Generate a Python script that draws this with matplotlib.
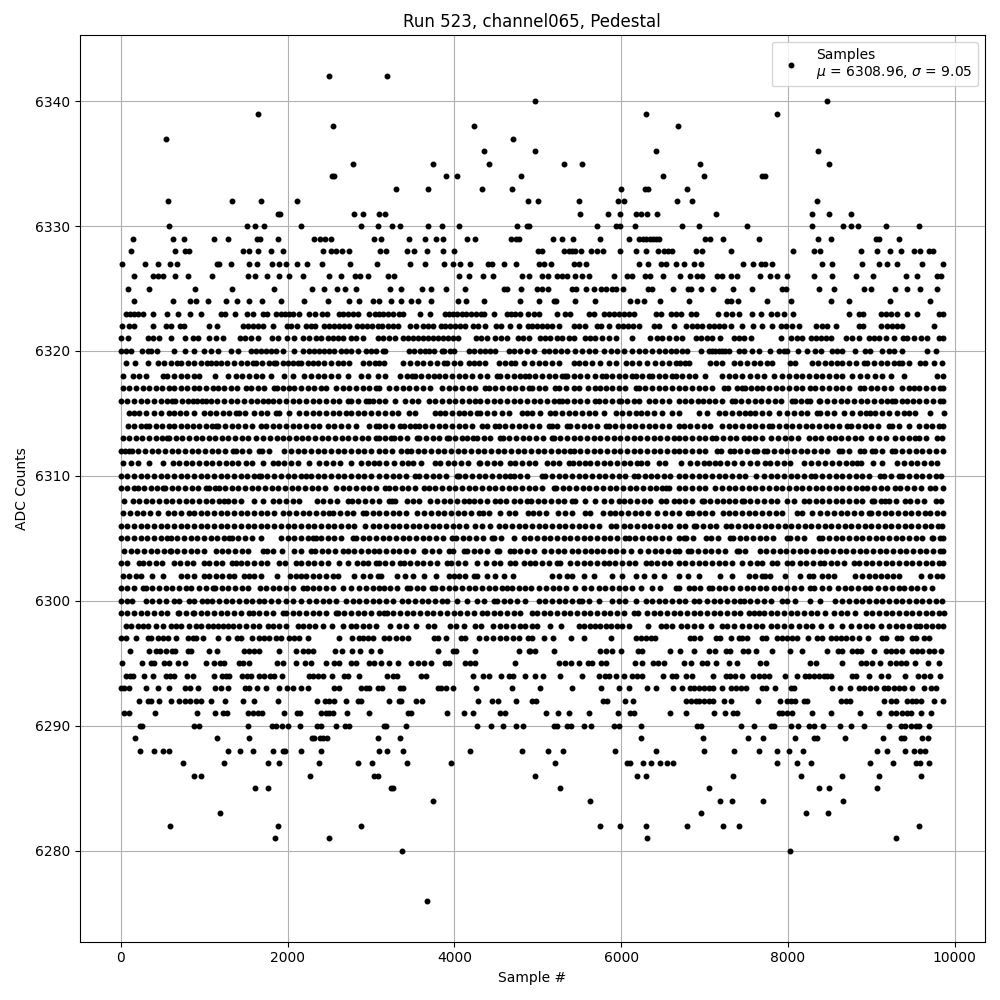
import matplotlib
matplotlib.use('Agg')
from matplotlib import pyplot as plt

# sample numbers, one list per ADC level
s6342 = [2494, 3190]
s6340 = [4968, 8472]
s6339 = [1642, 6300, 7872]
s6338 = [2542, 4234, 6684]
s6337 = [538, 4702]
s6336 = [4354, 4968, 6420, 8364]
s6335 = [2782, 3742, 4414, 5316, 5532, 6948, 8496]
s6334 = [2530, 2562, 3898, 4030, 4798, 6504, 6996, 7692, 7724]
s6333 = [3298, 3682, 4330, 4690, 6000, 6288, 6316, 6792]
s6332 = [562, 1330, 1678, 2110, 4878, 5004, 5496, 5964, 6036, 6672, 6852, 8352]
s6331 = [1882, 1910, 2794, 2902, 3094, 3166, 5508, 5844, 5988, 6180, 6240, 6312, 6432, 7140, 8292, 8496, 8760]
s6330 = [574, 1510, 1606, 1714, 2158, 2878, 3082, 3250, 3346, 3682, 3850, 4054, 4750, 4870, 4892, 5712, 5940, 5980,
         6168, 6732, 6936, 7512, 8292, 8664, 8760, 8844, 9180, 9576]
s6329 = [142, 622, 754, 1114, 1282, 1630, 1670, 1882, 2314, 2386, 2450, 2522, 3034, 3118, 3454, 3646, 3778, 3862,
         4150, 4246, 4678, 4738, 4774, 5184, 5292, 5424, 5748, 6096, 6216, 6260, 6300, 6340, 6380, 6420, 6450, 7004,
         7068, 7224, 7656, 8364, 8520, 9052, 9092, 9336]
s6328 = [118, 646, 766, 822, 1462, 1534, 1642, 1798, 1942, 2422, 2522, 2582, 2650, 2734, 3106, 3178, 3430, 3514,
         3670, 3862, 3994, 5000, 5052, 5312, 5372, 5412, 5452, 5520, 5640, 5712, 5784, 5988, 6180, 6300, 6444, 6512,
         6564, 6612, 6900, 6972, 7312, 8064, 8316, 8388, 8872, 9072, 9228, 9360, 9516, 9588, 9696, 9744]
s6327 = [10, 286, 442, 586, 670, 1150, 1182, 1318, 1534, 1630, 1814, 1902, 1982, 2110, 2230, 2410, 2746, 3070, 3466,
         3646, 3874, 3982, 4062, 4182, 4402, 4450, 4594, 4738, 5012, 5072, 5160, 5432, 5492, 5580, 6216, 6320, 6480,
         6540, 6660, 6756, 6876, 6960, 7464, 7584, 7680, 7724, 7812, 8412, 8532, 8892, 9096, 9192, 9312, 9612, 9852]
s6326 = [154, 382, 442, 502, 646, 802, 1090, 1522, 1606, 1750, 1894, 2014, 2182, 2494, 2638, 2806, 2866, 2962, 3202,
         3274, 4054, 4174, 4342, 4462, 4810, 4892, 5052, 5124, 5232, 5292, 5352, 5452, 5532, 5612, 5912, 6072, 6132,
         6280, 6340, 6504, 6708, 6828, 6912, 6972, 7152, 7212, 7312, 7392, 7668, 7780, 7872, 7992, 8316, 8532, 8820,
         9024, 9420, 9552, 9780, 9828]
s6325 = [82, 334, 886, 1330, 1838, 2290, 2434, 2590, 2686, 2818, 3226, 3358, 3610, 3718, 3898, 4126, 4594, 4630, 4798,
         4992, 5052, 5124, 5412, 5460, 5580, 5676, 5760, 5820, 5892, 5932, 6024, 6324, 6364, 6624, 6804, 6840, 6960,
         7104, 7344, 7572, 7932, 7972, 8376, 8556, 8916, 9000, 9288, 9432, 9588, 9780]
s6324 = [154, 622, 826, 902, 1042, 1258, 1390, 1534, 1690, 1918, 2194, 2482, 2734, 2854, 3022, 3094, 3238, 3358, 3478,
         3562, 3718, 4042, 4138, 4354, 4790, 5016, 5192, 5220, 5448, 5688, 6108, 6192, 6276, 6464, 6816, 7272, 7320,
         7404, 7752, 8040, 8520, 8736, 9228, 9708]
s6323 = [62, 110, 162, 210, 266, 382, 550, 682, 826, 958, 1202, 1246, 1366, 1510, 1582, 1702, 1750, 1862, 1922, 1974,
         2022, 2070, 2134, 2254, 2326, 2410, 2470, 2614, 2662, 2722, 2790, 2842, 2974, 3054, 3094, 3150, 3202, 3262,
         3334, 3382, 3590, 3706, 3882, 3934, 3982, 4030, 4094, 4142, 4202, 4262, 4322, 4354, 4474, 4630, 4682, 4722,
         4782, 4882, 4952, 5012, 5232, 5332, 5392, 5612, 5672, 5792, 5852, 5912, 5972, 6032, 6092, 6156, 6412, 6472,
         6592, 6652, 6720, 6832, 6900, 7160, 7260, 7332, 7412, 7572, 7672, 7792, 7872, 7952, 8060, 8736, 8852, 8904,
         9112, 9172, 9232, 9312, 9432, 9552, 9804, 9852]
s6322 = [10, 102, 162, 382, 542, 602, 710, 762, 1062, 1150, 1462, 1522, 1582, 1642, 1702, 1822, 1990, 2042, 2110, 2222,
         2282, 2334, 2442, 2502, 2562, 2622, 2682, 2742, 2830, 2890, 2950, 3014, 3082, 3134, 3202, 3262, 3322, 3470,
         3542, 3622, 3682, 3742, 3842, 3882, 3942, 4002, 4062, 4122, 4222, 4282, 4362, 4502, 4562, 4662, 4774, 4882,
         4932, 4992, 5052, 5112, 5172, 5252, 5432, 5492, 5572, 5712, 5764, 5852, 5964, 6020, 6084, 6140, 6212, 6392,
         6452, 6636, 6772, 6852, 6912, 6972, 7052, 7112, 7172, 7232, 7312, 7452, 7580, 7692, 7812, 7912, 7972, 8052,
         8132, 8340, 8412, 8472, 8572, 8852, 8904, 9120, 9192, 9252, 9312, 9372, 9756]
s6321 = [2, 82, 322, 382, 462, 602, 766, 862, 922, 1062, 1142, 1222, 1434, 1490, 1562, 1642, 1814, 1882, 1990, 2082,
         2190, 2262, 2342, 2402, 2482, 2542, 2602, 2666, 2762, 2822, 2902, 3082, 3142, 3222, 3294, 3382, 3442, 3502,
         3562, 3622, 3682, 3742, 3802, 3862, 3922, 3982, 4042, 4262, 4322, 4390, 4482, 4562, 4630, 4762, 4822, 4892,
         5032, 5092, 5152, 5232, 5292, 5372, 5432, 5572, 5632, 5692, 5772, 5852, 5932, 6132, 6340, 6432, 6492, 6572,
         6652, 6732, 6892, 6952, 7032, 7092, 7180, 7352, 7412, 7472, 7552, 7920, 8032, 8112, 8172, 8272, 8332, 8392,
         8452, 8512, 8692, 8772, 8852, 8972, 9032, 9092, 9172, 9276, 9380, 9432, 9512, 9592, 9672, 9804, 9852]
s6320 = [0, 62, 122, 254, 322, 362, 430, 634, 774, 882, 1002, 1082, 1162, 1322, 1402, 1562, 1622, 1682, 1742, 1802, 1862,
         1942, 2074, 2182, 2262, 2322, 2382, 2442, 2502, 2562, 2642, 2702, 2762, 2842, 2942, 3002, 3062, 3142, 3172,
         3452, 3512, 3590, 3652, 3692, 3760, 3852, 3880, 3950, 4000, 4172, 4240, 4312, 4372, 4430, 4492, 4652, 4720,
         4790, 4870, 4952, 5072, 5140, 5210, 5280, 5352, 5452, 5532, 5612, 5692, 5792, 5872, 5952, 6032, 6132, 6210,
         6290, 6370, 6450, 6530, 6600, 6652, 6728, 6788, 6960, 7048, 7088, 7128, 7168, 7208, 7248, 7288, 7416, 7476,
         7568, 7648, 7788, 7888, 7948, 7988, 8120, 8228, 8328, 8400, 8528, 8588, 8648, 8808, 8928, 8988, 9128, 9208,
         9268, 9368, 9668, 9768]
s6319 = [62, 174, 330, 442, 520, 600, 670, 722, 802, 880, 960, 1030, 1082, 1142, 1202, 1280, 1360, 1440, 1510, 1582,
         1622, 1700, 1780, 1842, 1862, 1940, 2010, 2062, 2122, 2162, 2240, 2310, 2362, 2442, 2520, 2600, 2670, 2734,
         2902, 2980, 3050, 3102, 3152, 3380, 3472, 3552, 3630, 3710, 3790, 3872, 3912, 3990, 4070, 4172, 4232, 4300,
         4372, 4532, 4610, 4680, 4732, 4832, 4932, 5012, 5090, 5172, 5260, 5432, 5492, 5570, 5650, 5752, 5852, 5932,
         6060, 6130, 6210, 6312, 6404, 6492, 6572, 6652, 6708, 6760, 6808, 7068, 7140, 7208, 7348, 7428, 7510, 7590,
         7670, 7750, 7808, 8028, 8088, 8288, 8360, 8440, 8510, 8588, 8648, 8730, 8810, 8908, 8948, 9030, 9110, 9190,
         9270, 9328, 9368, 9448, 9588, 9648, 9748, 9840]
s6318 = [22, 142, 222, 302, 502, 550, 642, 720, 800, 880, 942, 1134, 1282, 1382, 1460, 1540, 1620, 1700, 1802, 1954,
         2062, 2202, 2280, 2360, 2440, 2520, 2600, 2722, 2882, 2960, 3082, 3172, 3352, 3430, 3492, 3524, 3600, 3680,
         3752, 3812, 3890, 3970, 4052, 4132, 4212, 4312, 4390, 4512, 4552, 4630, 4710, 4790, 4852, 4892, 4970, 5050,
         5130, 5210, 5290, 5332, 5352, 5430, 5510, 5590, 5692, 5772, 5812, 5892, 5970, 6050, 6132, 6172, 6250, 6332,
         6372, 6450, 6530, 6610, 6652, 6728, 6810, 6890, 7008, 7208, 7290, 7370, 7448, 7548, 7630, 7710, 7828, 7928,
         8010, 8090, 8170, 8250, 8330, 8410, 8490, 8570, 8650, 8768, 8868, 8950, 9048, 9128, 9236, 9392, 9788, 9860]
s6317 = [22, 100, 182, 262, 340, 420, 500, 582, 642, 720, 800, 882, 934, 1020, 1102, 1162, 1240, 1320, 1400, 1502, 1562,
         1642, 1720, 1842, 1870, 1950, 2022, 2082, 2160, 2240, 2320, 2400, 2462, 2582, 2660, 2740, 2820, 2900, 2980,
         3060, 3092, 3220, 3300, 3380, 3460, 3540, 3620, 3712, 3852, 3930, 4010, 4090, 4170, 4250, 4372, 4412, 4490,
         4570, 4650, 4730, 4810, 4892, 4932, 5010, 5090, 5212, 5252, 5340, 5432, 5492, 5604, 5692, 5752, 5812, 5890,
         5970, 6050, 6172, 6212, 6290, 6370, 6450, 6530, 6610, 6692, 6770, 6850, 6930, 7010, 7090, 7228, 7276, 7388,
         7448, 7488, 7560, 7628, 7688, 7770, 7850, 7930, 8010, 8090, 8170, 8268, 8328, 8410, 8490, 8570, 8650, 8730,
         8868, 8908, 8990, 9070, 9150, 9230, 9368, 9448, 9508, 9576, 9660, 9740, 9820, 9860]
s6316 = [0, 80, 160, 240, 320, 400, 480, 560, 620, 654, 730, 810, 870, 910, 980, 1020, 1082, 1160, 1240, 1320, 1400, 1480,
         1560, 1640, 1710, 1770, 1826, 1900, 1980, 2060, 2140, 2220, 2300, 2380, 2460, 2540, 2620, 2730, 2762, 2840,
         2942, 2974, 3030, 3102, 3170, 3292, 3412, 3490, 3570, 3692, 3772, 3852, 3930, 4010, 4090, 4170, 4250, 4312,
         4392, 4470, 4550, 4630, 4710, 4790, 4870, 4950, 5030, 5110, 5190, 5252, 5292, 5352, 5430, 5510, 5590, 5692,
         5732, 5810, 5890, 5972, 5992, 6070, 6150, 6212, 6332, 6410, 6490, 6570, 6692, 6768, 6836, 6920, 6976, 7050,
         7130, 7210, 7328, 7360, 7440, 7520, 7600, 7680, 7760, 7840, 7920, 8048, 8088, 8160, 8228, 8268, 8368, 8388,
         8470, 8550, 8630, 8710, 8790, 8870, 8950, 9030, 9110, 9190, 9248, 9288, 9368, 9428, 9500, 9568, 9656, 9740,
         9820, 9860]
s6315 = [102, 160, 222, 302, 402, 482, 574, 642, 710, 782, 882, 1002, 1070, 1142, 1222, 1300, 1382, 1422, 1490, 1602, 1680,
         1760, 1862, 1902, 2022, 2134, 2222, 2300, 2380, 2460, 2540, 2620, 2702, 2762, 2840, 2920, 3000, 3082, 3170,
         3250, 3330, 3452, 3532, 3772, 3830, 3892, 3972, 4052, 4112, 4190, 4272, 4312, 4390, 4470, 4572, 4652, 4812,
         4870, 4932, 5032, 5152, 5212, 5292, 5370, 5450, 5530, 5610, 5692, 5792, 5932, 6010, 6090, 6172, 6232, 6310,
         6392, 6492, 6612, 6692, 6936, 7028, 7168, 7250, 7330, 7410, 7490, 7548, 7608, 7690, 7770, 7888, 7988, 8068,
         8150, 8230, 8348, 8388, 8470, 8550, 8668, 8768, 8868, 8930, 8988, 9048, 9128, 9208, 9308, 9388, 9448, 9528,
         9708, 9868]
s6314 = [82, 160, 240, 302, 342, 420, 500, 582, 642, 720, 800, 862, 942, 1020, 1100, 1142, 1162, 1252, 1330, 1410, 1490,
         1570, 1682, 1742, 1820, 1900, 1980, 2060, 2140, 2220, 2300, 2382, 2482, 2560, 2640, 2720, 2822, 2982, 3062,
         3092, 3170, 3250, 3352, 3392, 3470, 3532, 3572, 3650, 3730, 3810, 3890, 3970, 4050, 4130, 4210, 4332, 4392,
         4492, 4532, 4610, 4690, 4770, 4850, 4930, 5010, 5132, 5172, 5232, 5352, 5392, 5470, 5550, 5630, 5710, 5812,
         5852, 5930, 6010, 6090, 6170, 6250, 6330, 6410, 6490, 6570, 6692, 6748, 6828, 6910, 6990, 7070, 7208, 7288,
         7370, 7450, 7530, 7610, 7690, 7768, 7808, 7890, 7970, 8050, 8130, 8210, 8290, 8370, 8450, 8530, 8610, 8708,
         8760, 8840, 8920, 9000, 9080, 9208, 9248, 9330, 9448, 9568, 9650, 9730, 9810, 9860]
s6313 = [22, 100, 180, 260, 340, 420, 500, 550, 582, 660, 740, 822, 902, 980, 1062, 1134, 1210, 1290, 1370, 1450, 1530,
         1622, 1702, 1790, 1870, 1942, 2022, 2102, 2174, 2250, 2330, 2410, 2490, 2570, 2650, 2730, 2810, 2890, 2970,
         3062, 3092, 3170, 3242, 3272, 3350, 3430, 3552, 3580, 3660, 3740, 3820, 3912, 3932, 4010, 4090, 4152, 4224,
         4272, 4350, 4430, 4552, 4580, 4660, 4740, 4820, 4900, 4980, 5060, 5172, 5192, 5270, 5350, 5430, 5510, 5590,
         5670, 5750, 5830, 5910, 5990, 6070, 6150, 6230, 6310, 6390, 6470, 6550, 6632, 6688, 6770, 6850, 6930, 7010,
         7088, 7140, 7220, 7300, 7380, 7468, 7528, 7610, 7690, 7800, 7880, 7960, 8040, 8120, 8256, 8320, 8400, 8496,
         8560, 8640, 8720, 8800, 8880, 9000, 9088, 9170, 9288, 9368, 9450, 9528, 9568, 9650, 9788, 9848]
s6312 = [0, 50, 102, 134, 210, 290, 370, 450, 530, 610, 690, 770, 850, 930, 1010, 1090, 1170, 1250, 1350, 1382, 1460, 1540,
         1662, 1694, 1782, 1962, 2040, 2120, 2200, 2280, 2360, 2440, 2520, 2600, 2680, 2760, 2840, 2920, 3000, 3102,
         3170, 3250, 3364, 3432, 3484, 3560, 3640, 3720, 3800, 3880, 3960, 4040, 4120, 4200, 4280, 4360, 4440, 4520,
         4600, 4680, 4760, 4840, 4920, 5000, 5080, 5160, 5240, 5320, 5392, 5432, 5510, 5590, 5670, 5750, 5830, 5910,
         5990, 6070, 6150, 6230, 6310, 6390, 6470, 6550, 6630, 6692, 6770, 6850, 6930, 7010, 7148, 7200, 7308, 7348,
         7428, 7510, 7588, 7628, 7708, 7748, 7830, 7910, 7990, 8070, 8150, 8230, 8310, 8390, 8470, 8608, 8648, 8730,
         8868, 8908, 9008, 9048, 9130, 9248, 9288, 9370, 9450, 9530, 9610, 9690, 9770, 9860]
s6311 = [22, 122, 202, 342, 502, 622, 700, 780, 860, 940, 1020, 1100, 1180, 1262, 1334, 1410, 1502, 1574, 1702, 1822, 1882,
         1960, 2040, 2120, 2262, 2374, 2462, 2550, 2630, 2762, 2882, 2960, 3040, 3102, 3180, 3272, 3372, 3444, 3504,
         3600, 3772, 3824, 3924, 4000, 4080, 4160, 4292, 4312, 4390, 4470, 4550, 4672, 4732, 4810, 4890, 4970, 5112,
         5180, 5260, 5372, 5420, 5500, 5572, 5632, 5710, 5790, 5870, 5950, 6030, 6110, 6192, 6232, 6310, 6452, 6524,
         6720, 6828, 6910, 6988, 7048, 7128, 7188, 7270, 7350, 7448, 7548, 7630, 7728, 7788, 7870, 7950, 8028, 8188,
         8280, 8360, 8448, 8528, 8610, 8690, 8770, 8828, 8880, 9020, 9128, 9308, 9390, 9470, 9550, 9630, 9710, 9788]
s6310 = [0, 80, 160, 240, 320, 400, 480, 560, 640, 720, 800, 880, 960, 1040, 1120, 1200, 1280, 1360, 1440, 1520, 1600,
         1662, 1682, 1760, 1840, 1920, 2000, 2080, 2160, 2222, 2282, 2360, 2440, 2520, 2600, 2680, 2760, 2840, 2920,
         3000, 3102, 3180, 3260, 3340, 3420, 3532, 3580, 3660, 3740, 3820, 3900, 4032, 4052, 4130, 4210, 4290, 4370,
         4450, 4530, 4610, 4672, 4712, 4790, 4870, 5052, 5092, 5170, 5250, 5330, 5410, 5490, 5570, 5650, 5730, 5810,
         5890, 5970, 6050, 6152, 6204, 6284, 6352, 6430, 6510, 6590, 6692, 6770, 6850, 6930, 7010, 7090, 7170, 7250,
         7330, 7410, 7490, 7616, 7708, 7790, 7870, 7950, 8030, 8110, 8190, 8280, 8328, 8410, 8490, 8570, 8650, 8730,
         8810, 8890, 8970, 9108, 9148, 9230, 9328, 9368, 9450, 9530, 9610, 9690, 9770, 9828]
s6309 = [2, 80, 162, 202, 280, 360, 440, 502, 534, 610, 690, 770, 850, 930, 1022, 1054, 1134, 1174, 1250, 1330, 1410,
         1490, 1570, 1650, 1730, 1810, 1890, 1970, 2050, 2130, 2210, 2290, 2370, 2450, 2582, 2662, 2740, 2820, 2900,
         2980, 3060, 3172, 3212, 3290, 3370, 3450, 3530, 3632, 3692, 3770, 3850, 3930, 4010, 4090, 4170, 4250, 4330,
         4410, 4490, 4570, 4650, 4730, 4810, 4890, 4970, 5050, 5192, 5220, 5300, 5380, 5460, 5540, 5620, 5700, 5780,
         5860, 5940, 6020, 6100, 6180, 6260, 6340, 6420, 6492, 6540, 6572, 6692, 6770, 6850, 6930, 7010, 7128, 7208,
         7290, 7370, 7450, 7530, 7610, 7690, 7770, 7850, 7930, 8010, 8090, 8170, 8250, 8330, 8410, 8490, 8570, 8650,
         8730, 8810, 8888, 8948, 9030, 9110, 9190, 9288, 9348, 9430, 9510, 9590, 9708, 9760, 9860]
s6308 = [42, 142, 220, 300, 380, 460, 540, 620, 700, 780, 860, 940, 1020, 1100, 1180, 1242, 1282, 1360, 1440, 1602, 1702,
         1822, 1900, 1980, 2060, 2142, 2350, 2430, 2510, 2590, 2722, 2774, 2850, 2930, 3010, 3102, 3212, 3252, 3292,
         3432, 3510, 3572, 3712, 3790, 3870, 3950, 4030, 4110, 4180, 4232, 4310, 4390, 4492, 4552, 4624, 4712, 4790,
         4872, 4924, 5000, 5080, 5160, 5240, 5320, 5412, 5452, 5572, 5692, 5792, 5872, 5972, 6032, 6110, 6190, 6270,
         6350, 6472, 6532, 6632, 6688, 6770, 6850, 6968, 6988, 7070, 7148, 7220, 7288, 7370, 7448, 7468, 7550, 7630,
         7710, 7790, 7870, 7988, 8068, 8188, 8248, 8330, 8410, 8490, 8570, 8650, 8730, 8810, 8890, 9008, 9028, 9110,
         9168, 9216, 9300, 9400, 9468, 9550, 9630, 9768, 9828]
s6307 = [22, 110, 190, 270, 350, 442, 562, 640, 720, 822, 882, 960, 1040, 1120, 1200, 1280, 1360, 1440, 1520, 1600, 1680,
         1760, 1840, 1942, 2022, 2100, 2180, 2260, 2340, 2420, 2502, 2550, 2630, 2710, 2790, 2902, 2942, 3020, 3102,
         3180, 3260, 3340, 3420, 3552, 3640, 3720, 3800, 3880, 3960, 4040, 4120, 4200, 4292, 4340, 4420, 4552, 4652,
         4730, 4884, 4940, 5020, 5100, 5244, 5332, 5410, 5572, 5632, 5780, 5864, 5924, 6000, 6080, 6160, 6240, 6320,
         6432, 6524, 6604, 6692, 6800, 6848, 6930, 7010, 7090, 7220, 7288, 7370, 7450, 7530, 7610, 7690, 7770, 7850,
         7930, 8108, 8168, 8288, 8388, 8470, 8550, 8630, 8710, 8790, 8870, 8968, 9000, 9080, 9160, 9240, 9320, 9400,
         9480, 9560, 9648, 9708, 9790, 9860]
s6306 = [0, 80, 160, 240, 320, 400, 480, 560, 640, 720, 800, 880, 960, 1040, 1120, 1200, 1280, 1360, 1440, 1522, 1602,
         1680, 1760, 1840, 1920, 2000, 2080, 2160, 2240, 2320, 2400, 2480, 2560, 2640, 2720, 2800, 2932, 3022, 3102,
         3180, 3260, 3340, 3420, 3500, 3580, 3660, 3740, 3820, 3900, 3980, 4060, 4140, 4252, 4332, 4432, 4532, 4610,
         4690, 4770, 4850, 4930, 5010, 5090, 5170, 5250, 5330, 5410, 5490, 5570, 5650, 5730, 5872, 5932, 6032, 6110,
         6190, 6270, 6350, 6430, 6510, 6590, 6692, 6770, 6868, 6896, 6980, 7060, 7140, 7260, 7320, 7400, 7480, 7560,
         7640, 7720, 7800, 7880, 7960, 8040, 8120, 8200, 8280, 8360, 8440, 8520, 8600, 8680, 8760, 8840, 8920, 9000,
         9080, 9160, 9240, 9320, 9400, 9480, 9560, 9640, 9720, 9800, 9848]
s6305 = [0, 80, 160, 240, 320, 400, 480, 550, 602, 680, 760, 840, 920, 1000, 1080, 1160, 1240, 1302, 1334, 1410, 1490,
         1570, 1682, 1922, 2000, 2080, 2160, 2240, 2302, 2342, 2402, 2480, 2560, 2640, 2782, 2822, 2900, 2980, 3060,
         3140, 3220, 3300, 3380, 3460, 3540, 3620, 3700, 3780, 3860, 3972, 4020, 4100, 4180, 4260, 4340, 4452, 4480,
         4560, 4712, 4832, 4910, 4990, 5070, 5150, 5230, 5310, 5390, 5470, 5550, 5630, 5710, 5790, 5870, 5950, 6040,
         6092, 6170, 6250, 6330, 6410, 6490, 6570, 6692, 6748, 6776, 6860, 7016, 7076, 7160, 7308, 7336, 7420, 7500,
         7580, 7660, 7740, 7820, 7988, 8028, 8110, 8190, 8368, 8408, 8490, 8570, 8650, 8730, 8810, 8890, 8970, 9050,
         9130, 9210, 9290, 9370, 9450, 9530, 9610, 9728, 9740, 9820, 9860]
s6304 = [42, 120, 200, 280, 360, 440, 520, 590, 602, 680, 760, 840, 920, 1000, 1142, 1214, 1290, 1370, 1450, 1530, 1702,
         1750, 1830, 1934, 2082, 2160, 2282, 2334, 2410, 2490, 2570, 2662, 2722, 2800, 2880, 2960, 3040, 3102, 3180,
         3260, 3340, 3420, 3500, 3632, 3652, 3730, 3810, 3932, 3980, 4112, 4152, 4230, 4310, 4390, 4512, 4540, 4672,
         4712, 4790, 4870, 4950, 5072, 5164, 5240, 5320, 5412, 5484, 5572, 5640, 5712, 5780, 5860, 5940, 6020, 6112,
         6220, 6324, 6400, 6480, 6560, 6640, 6692, 6800, 6836, 6920, 7000, 7080, 7160, 7240, 7388, 7408, 7490, 7668,
         7736, 7820, 7900, 7980, 8060, 8140, 8220, 8300, 8380, 8460, 8540, 8620, 8700, 8780, 8860, 8940, 9020, 9100,
         9180, 9260, 9340, 9420, 9500, 9580, 9660, 9740, 9820, 9860]
s6303 = [2, 80, 222, 262, 340, 420, 500, 642, 714, 790, 870, 1002, 1062, 1140, 1220, 1334, 1382, 1442, 1520, 1600, 1680,
         1760, 1902, 1974, 2102, 2162, 2240, 2320, 2400, 2480, 2622, 2722, 2830, 2900, 2962, 3062, 3092, 3170, 3250,
         3352, 3392, 3470, 3550, 3630, 3710, 3790, 3912, 3964, 4040, 4132, 4272, 4380, 4472, 4550, 4672, 4724, 4832,
         4912, 4972, 5050, 5130, 5232, 5272, 5392, 5470, 5550, 5630, 5710, 5792, 5852, 5930, 6010, 6090, 6170, 6292,
         6352, 6430, 6510, 6590, 6692, 6770, 6850, 6930, 7010, 7090, 7170, 7250, 7330, 7448, 7540, 7628, 7688, 7808,
         7868, 7988, 8048, 8148, 8216, 8300, 8388, 8428, 8510, 8590, 8670, 8788, 8848, 8930, 9010, 9090, 9170, 9250,
         9330, 9410, 9490, 9570, 9650, 9730, 9810, 9860]
s6302 = [22, 100, 180, 242, 370, 502, 722, 800, 880, 1002, 1062, 1140, 1220, 1300, 1362, 1482, 1540, 1602, 1682, 1870,
         2030, 2100, 2162, 2222, 2300, 2380, 2460, 2540, 2602, 2794, 2902, 2990, 3082, 3124, 3312, 3404, 3504, 3640,
         3780, 3940, 3992, 4052, 4130, 4232, 4272, 4392, 4492, 4592, 4704, 5172, 5250, 5352, 5412, 5552, 5672, 5892,
         6012, 6172, 6272, 6392, 6512, 6688, 6800, 6936, 7188, 7328, 7528, 7610, 7688, 7728, 7788, 7968, 8148, 8248,
         8300, 8408, 8480, 8548, 8808, 8890, 8970, 9048, 9116, 9188, 9260, 9328, 9600, 9708, 9780, 9848]
s6301 = [2, 80, 160, 262, 302, 380, 460, 540, 620, 700, 780, 842, 942, 1020, 1102, 1134, 1210, 1290, 1370, 1450, 1522,
         1672, 1742, 1820, 1900, 1980, 2060, 2182, 2230, 2302, 2380, 2460, 2540, 2662, 2762, 2862, 2940, 3020, 3102,
         3152, 3230, 3310, 3432, 3472, 3550, 3630, 3732, 3772, 3850, 3930, 4010, 4090, 4170, 4250, 4330, 4410, 4490,
         4570, 4632, 4692, 4772, 4850, 4924, 5020, 5100, 5180, 5252, 5344, 5452, 5552, 5644, 5732, 5810, 5890, 5970,
         6050, 6130, 6232, 6372, 6460, 6660, 6688, 6816, 6868, 6950, 7056, 7088, 7170, 7250, 7330, 7428, 7508, 7576,
         7660, 7740, 7828, 7908, 7990, 8070, 8150, 8268, 8308, 8408, 8488, 8600, 8680, 8760, 8840, 8920, 8988, 9080,
         9168, 9248, 9328, 9388, 9470, 9550, 9630, 9728]
s6300 = [0, 70, 140, 300, 380, 460, 540, 640, 700, 820, 880, 980, 1040, 1100, 1180, 1260, 1340, 1420, 1500, 1580, 1660,
         1720, 1800, 1880, 1980, 2060, 2160, 2260, 2340, 2420, 2500, 2580, 2700, 2780, 2860, 2940, 3020, 3100, 3180,
         3260, 3372, 3450, 3530, 3610, 3690, 3770, 3850, 3912, 4032, 4152, 4272, 4350, 4472, 4512, 4590, 4670, 4750,
         4852, 5012, 5090, 5170, 5250, 5330, 5410, 5492, 5532, 5610, 5732, 5892, 5970, 6050, 6172, 6292, 6370, 6450,
         6530, 6612, 6688, 6768, 6870, 6930, 7028, 7110, 7190, 7270, 7350, 7428, 7468, 7550, 7630, 7710, 7790, 7928,
         7988, 8088, 8268, 8388, 8568, 8650, 8730, 8810, 8890, 8970, 9050, 9130, 9210, 9290, 9370, 9450, 9530, 9610,
         9690, 9770, 9848]
s6299 = [0, 80, 160, 240, 320, 400, 480, 560, 682, 702, 780, 862, 882, 960, 1040, 1120, 1200, 1280, 1360, 1440, 1542,
         1582, 1660, 1740, 1820, 1942, 1982, 2060, 2140, 2220, 2300, 2380, 2460, 2582, 2602, 2680, 2760, 2840, 2920,
         3000, 3102, 3152, 3192, 3270, 3350, 3430, 3510, 3590, 3670, 3750, 3830, 3910, 3990, 4070, 4150, 4230, 4332,
         4392, 4470, 4550, 4630, 4710, 4790, 4932, 4992, 5070, 5150, 5230, 5310, 5390, 5470, 5550, 5630, 5710, 5790,
         5870, 5950, 6030, 6152, 6200, 6312, 6390, 6470, 6550, 6630, 6710, 6790, 6870, 6950, 7030, 7110, 7190, 7270,
         7350, 7430, 7532, 7592, 7652, 7712, 7790, 7870, 7950, 8030, 8110, 8190, 8270, 8350, 8448, 8548, 8630, 8710,
         8808, 8932, 9010, 9090, 9170, 9250, 9330, 9410, 9490, 9570, 9650, 9730, 9812, 9868]
s6298 = [62, 122, 202, 262, 322, 422, 502, 602, 662, 722, 814, 902, 962, 1042, 1102, 1162, 1222, 1282, 1342, 1422, 1502,
         1582, 1662, 1762, 1822, 1902, 1982, 2122, 2182, 2254, 2334, 2422, 2534, 2662, 2762, 2822, 2902, 2982, 3062,
         3230, 3342, 3422, 3542, 3682, 3762, 3942, 4022, 4114, 4242, 4322, 4462, 4542, 4622, 4702, 4782, 4842, 4932,
         4992, 5148, 5280, 5492, 5552, 5632, 5692, 5752, 5812, 5872, 5952, 6012, 6092, 6320, 6472, 6532, 6612, 6712,
         6792, 6872, 6952, 7080, 7212, 7272, 7356, 7452, 7532, 7612, 7692, 7792, 7872, 7952, 8032, 8132, 8212, 8292,
         8392, 8512, 8652, 8752, 8852, 8932, 9012, 9112, 9212, 9292, 9372, 9452, 9532, 9580, 9652, 9732, 9792, 9852]
s6297 = [2, 62, 178, 322, 362, 442, 502, 562, 658, 802, 862, 902, 982, 1170, 1282, 1394, 1442, 1570, 1662, 1722, 1782,
         1862, 1922, 2014, 2082, 2142, 2242, 2614, 2770, 2854, 2910, 2962, 3030, 3162, 3222, 3302, 3374, 3442, 3762,
         3802, 3894, 4082, 4122, 4294, 4382, 4462, 4542, 4622, 4702, 4774, 4882, 4932, 5076, 5184, 5400, 5556, 5876,
         6180, 6232, 6292, 6352, 6404, 6820, 6872, 6940, 7140, 7180, 7320, 7412, 7452, 7512, 7692, 7740, 7872, 7932,
         7992, 8052, 8112, 8244, 8352, 8412, 8512, 8572, 8632, 8692, 8764, 8856, 8964, 9132, 9180, 9312, 9352, 9492,
         9532, 9632, 9692]
s6296 = [106, 334, 422, 470, 542, 614, 654, 802, 842, 1054, 1150, 1482, 1542, 1602, 1662, 1894, 2098, 2182, 2242, 2302,
         2566, 2650, 2770, 2866, 3002, 3106, 3802, 3982, 4014, 4246, 4774, 4894, 4912, 4972, 5196, 5752, 5812, 5892,
         5992, 6204, 6252, 6588, 6708, 6868, 7052, 7124, 7260, 7304, 7460, 7524, 7612, 7812, 8028, 8172, 8472, 8604,
         8652, 8772, 8832, 8872, 9036, 9172, 9232, 9292, 9372, 9492, 9544, 9612, 9692, 9752, 9832]
s6295 = [10, 250, 362, 402, 522, 582, 682, 766, 1018, 1114, 1194, 1242, 1422, 1462, 1534, 1870, 1950, 2098, 2206, 2278,
         2458, 2562, 2614, 2762, 2822, 2982, 3042, 3122, 3214, 3322, 3478, 3562, 3634, 3718, 3882, 3930, 4122, 4182,
         4250, 4726, 5252, 5324, 5404, 5492, 5604, 5652, 5764, 5812, 6168, 6252, 6380, 6444, 6512, 6752, 6832, 6972,
         7032, 7136, 7296, 7392, 7668, 7740, 8268, 8332, 8652, 8872, 8932, 9012, 9108, 9228, 9292, 9352, 9420, 9520,
         9676, 9804]
s6294 = [62, 110, 150, 274, 382, 542, 590, 634, 790, 862, 1114, 1214, 1262, 1302, 1450, 1510, 1562, 1654, 1714, 1794,
         1842, 1930, 2254, 2302, 2362, 2422, 2530, 2682, 2722, 2854, 3190, 3262, 3310, 3598, 3662, 4222, 4342, 4414,
         4558, 4650, 4702, 4846, 4968, 5064, 5268, 5532, 5736, 5804, 5852, 5940, 6032, 6132, 6192, 6252, 6504, 6604,
         6652, 6772, 6852, 7104, 7252, 7304, 7368, 7452, 7584, 7652, 7712, 7772, 7968, 8112, 8204, 8252, 8312, 8372,
         8432, 8472, 8520, 8772, 8820, 8976, 9120, 9204, 9404, 9564, 9636, 9708, 9824]
s6293 = [0, 42, 102, 298, 442, 574, 766, 830, 922, 1126, 1198, 1282, 1490, 1542, 1630, 1738, 1894, 1998, 2062, 2158, 2242,
         2554, 2618, 2878, 2942, 2982, 3082, 3130, 3350, 3390, 3802, 3842, 3894, 3982, 4258, 4690, 5024, 5412, 5760,
         5976, 6096, 6312, 6416, 6624, 6732, 6820, 6872, 6932, 6992, 7052, 7104, 7212, 7312, 7372, 7432, 7492, 7684,
         7740, 7844, 8032, 8072, 8524, 8628, 8748, 8852, 8912, 8980, 9060, 9152, 9204, 9272, 9332, 9392, 9492, 9628,
         9720, 9772]
s6292 = [214, 322, 358, 454, 598, 694, 774, 834, 902, 962, 1086, 1250, 1462, 1594, 1882, 2350, 2450, 2502, 2562, 2698,
         2842, 2882, 3214, 3334, 3362, 3538, 3610, 4282, 4450, 4522, 4738, 4932, 4980, 5780, 5832, 6044, 6140, 6780,
         6832, 6892, 6932, 6992, 7052, 7100, 7236, 7320, 7644, 7908, 7992, 8040, 8084, 8192, 8232, 8632, 8692, 8740,
         9156, 9232, 9300, 9432, 9492, 9540, 9600, 9756, 9852]
s6291 = [34, 94, 406, 910, 1126, 1230, 1274, 1522, 1582, 1642, 1694, 1954, 2110, 2150, 2398, 2462, 2502, 2550, 2710,
         2974, 3442, 3482, 3910, 4114, 4222, 4542, 4602, 5100, 5244, 5380, 5616, 5964, 6108, 6156, 6588, 6780, 7116,
         7248, 7344, 7392, 7892, 7932, 7992, 8052, 8292, 8520, 8868, 9092, 9240, 9292, 9372, 9432, 9472, 9600, 9720]
s6290 = [226, 258, 874, 934, 1522, 1810, 1858, 1930, 2002, 2146, 2350, 2398, 2578, 2686, 2734, 3154, 3186, 3418, 4270,
         4438, 4582, 4742, 4822, 5196, 5232, 5352, 5404, 5556, 5640, 5912, 5976, 6232, 6912, 6960, 7440, 7596, 7792,
         7836, 8040, 8124, 8256, 8316, 8424, 8628, 8756, 8916, 9216, 9360, 9404, 9480, 9532, 9572, 9696]
s6289 = [166, 1150, 1534, 2290, 2314, 2390, 2430, 2470, 3082, 3346, 6240, 6984, 7524, 7704, 8088, 8312, 8352, 8688, 9144,
         9352, 9392, 9612, 9684]
s6288 = [226, 394, 502, 574, 1282, 1426, 1582, 1822, 1950, 1974, 2158, 2398, 3094, 3190, 3382, 4186, 4810, 5124, 5304,
         5928, 6420, 6996, 7356, 7656, 7872, 8016, 8184, 9072, 9192, 9408, 9516, 9580, 9640]
s6287 = [742, 1234, 1762, 1894, 2374, 2842, 3010, 3430, 3958, 5208, 6072, 6108, 6264, 6360, 6468, 6552, 6624, 7872, 8112,
         8280, 8988, 9264, 9540, 9588, 9696]
s6286 = [874, 958, 2266, 3034, 3082, 4968, 6192, 6300, 7344, 8160, 8652, 9096, 9600]
s6285 = [1606, 1762, 3242, 3270, 5268, 7056, 8376, 8496, 9072]
s6284 = [3742, 5628, 7188, 7332, 7704, 8664]
s6283 = [1186, 6960, 8220, 8484]
s6282 = [586, 1882, 2878, 5748, 5988, 6300, 6792, 7224, 7416, 9576]
s6281 = [1846, 2494, 6312, 9300]
s6280 = [3370, 8028]
s6276 = [3670]

adc_levels = [6342, 6340, 6339, 6338, 6337, 6336, 6335, 6334, 6333, 6332, 6331, 6330, 6329, 6328, 6327, 6326, 6325,
              6324, 6323, 6322, 6321, 6320, 6319, 6318, 6317, 6316, 6315, 6314, 6313, 6312, 6311, 6310, 6309, 6308,
              6307, 6306, 6305, 6304, 6303, 6302, 6301, 6300, 6299, 6298, 6297, 6296, 6295, 6294, 6293, 6292, 6291,
              6290, 6289, 6288, 6287, 6286, 6285, 6284, 6283, 6282, 6281, 6280, 6276]
level_samples = [s6342, s6340, s6339, s6338, s6337, s6336, s6335, s6334, s6333, s6332, s6331, s6330, s6329, s6328,
                 s6327, s6326, s6325, s6324, s6323, s6322, s6321, s6320, s6319, s6318, s6317, s6316, s6315, s6314,
                 s6313, s6312, s6311, s6310, s6309, s6308, s6307, s6306, s6305, s6304, s6303, s6302, s6301, s6300,
                 s6299, s6298, s6297, s6296, s6295, s6294, s6293, s6292, s6291, s6290, s6289, s6288, s6287, s6286,
                 s6285, s6284, s6283, s6282, s6281, s6280, s6276]

x = []
y = []
for level, samples in zip(adc_levels, level_samples):
    x.extend(samples)
    y.extend([level] * len(samples))

fig, ax = plt.subplots(figsize=(10, 10))
ax.plot(x, y, 'k.', markersize=6.5, label='Samples\n$\\mu$ = 6308.96, $\\sigma$ = 9.05')
ax.set_title('Run 523, channel065, Pedestal')
ax.set_xlabel('Sample #')
ax.set_ylabel('ADC Counts')
ax.grid(True)
ax.legend(loc='upper right')
plt.tight_layout()
# axes top sits at pixel 35 in the reference
fig.subplots_adjust(top=0.965)
plt.savefig('out.png', dpi=100)
